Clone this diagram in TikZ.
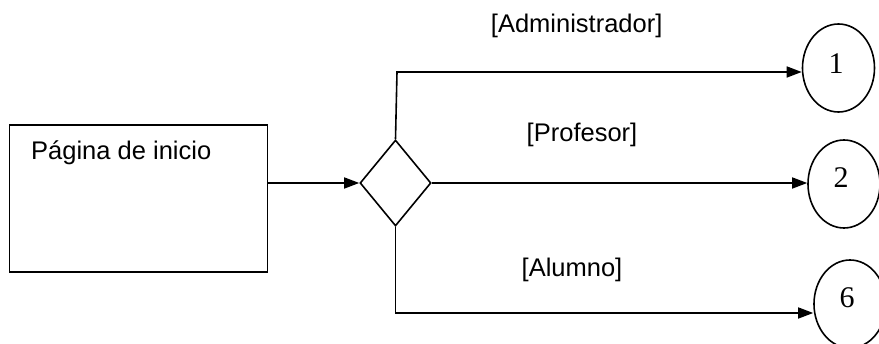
\documentclass[tikz,border=0pt]{standalone}
\usepackage{fontspec}
\setmainfont{Liberation Sans}
\newfontfamily\numfont{Liberation Serif}
\usetikzlibrary{shapes.geometric,arrows.meta}
\begin{document}
\begin{tikzpicture}[x=1pt,y=-1pt,
  line/.style={line width=1.6pt},
  flow/.style={line, -{Triangle[length=15pt,width=11pt]}},
  pagebox/.style={draw, line width=1.4pt, minimum width=258pt, minimum height=147pt, inner sep=0pt},
  choice/.style={draw, diamond, line width=1.6pt, minimum width=71pt, minimum height=86pt, inner sep=0pt},
  target/.style={draw, ellipse, line width=1.6pt, minimum width=72pt, minimum height=88pt, inner sep=0pt},
  num/.style={font=\numfont\fontsize{30}{32}\selectfont},
  lbl/.style={font=\fontsize{25.5}{30}\selectfont, inner sep=0pt, anchor=base}
]
\useasboundingbox (0,0) rectangle (879,344);

% start page and decision point
\node[pagebox] (home) at (138.5,198.5) {};
\node[font=\fontsize{25.5}{30}\selectfont, inner sep=0pt, anchor=base west] (hometext) at (31,160) {Página de inicio};
\node[choice] (dec) at (395.5,183) {};

% targets
\node[target] (c1) at (838.5,68) {};
\node[target] (c2) at (844,184) {};
\node[target] (c6) at (850,304) {};
\node[num, anchor=base, inner sep=0pt] (n1) at (836,73.3) {1};
\node[num, anchor=base, inner sep=0pt] (n2) at (841,188) {2};
\node[num, anchor=base, inner sep=0pt] (n6) at (847,308) {6};

% bend points
\coordinate (up) at (397,72);
\coordinate (down) at (395.5,313);

% connectors
\draw[flow] (home.east |- dec.west) -- (dec.west);
\draw[flow] (dec.north) -- (up) -- (up -| c1.west);
\draw[flow] (dec.east) -- (dec.east -| c2.west);
\draw[flow] (dec.south) -- (down) -- (down -| c6.west);

% guard labels
\node[lbl] (l1) at (576.7,32.3) {[Administrador]};
\node[lbl] (l2) at (582,141.7) {[Profesor]};
\node[lbl] (l6) at (572,276.7) {[Alumno]};
\end{tikzpicture}
\end{document}
